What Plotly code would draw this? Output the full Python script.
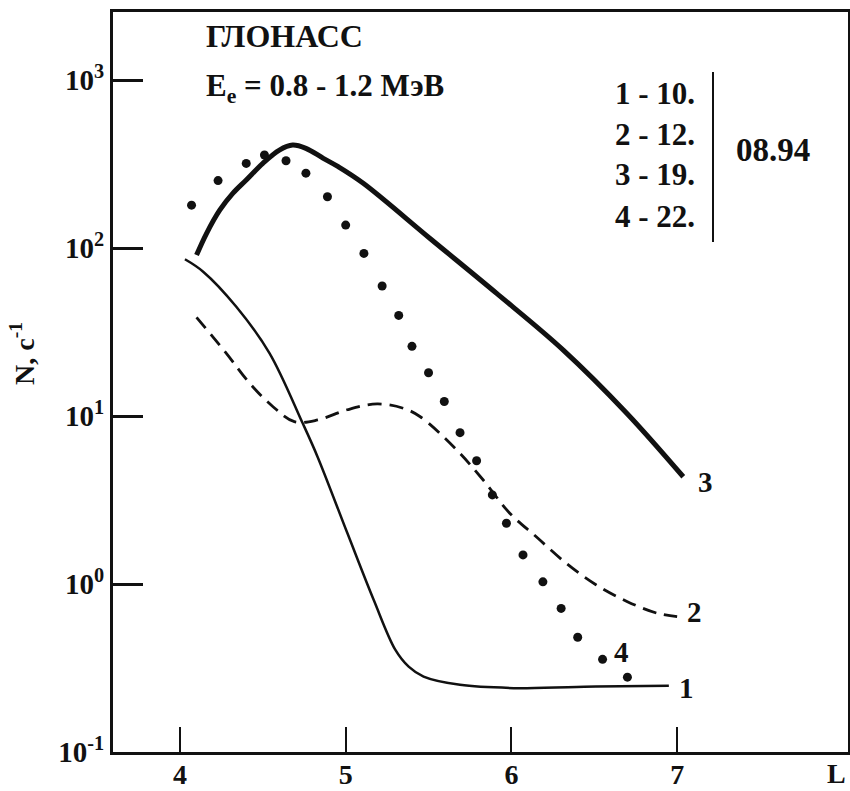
import plotly.graph_objects as go

# ---------------- data ----------------
L1 = [4.03, 4.14, 4.34, 4.54, 4.74, 4.83, 5.01, 5.17, 5.30, 5.38, 5.47, 5.69, 6.05, 6.51, 6.95]
N1 = [85.7, 72.3, 44.7, 23.7, 9.08, 5.73, 2.01, 0.80, 0.405, 0.322, 0.281, 0.251, 0.240, 0.245, 0.248]

L2 = [4.10, 4.28, 4.42, 4.56, 4.69, 4.83, 5.01, 5.19, 5.35, 5.45, 5.67, 5.83, 5.99, 6.15, 6.33, 6.51, 6.70, 6.88, 7.00]
N2 = [38.7, 23.6, 15.7, 11.4, 9.25, 9.47, 10.9, 11.8, 11.1, 9.9, 6.28, 4.16, 2.64, 1.91, 1.33, 0.99, 0.785, 0.67, 0.64]

L3 = [4.10, 4.16, 4.24, 4.32, 4.40, 4.50, 4.60, 4.68, 4.76, 4.865, 4.955, 5.106, 5.509,
      5.911, 6.313, 6.696, 7.037]
N3 = [90.8, 122, 168, 212, 254, 319, 383, 410, 392, 342, 305, 243, 114,
      53.7, 24.7, 10.4, 4.35]

L4 = [4.07, 4.23, 4.40, 4.51, 4.64, 4.76, 4.89, 5.00, 5.11, 5.22, 5.32, 5.40, 5.50, 5.595,
      5.69, 5.79, 5.885, 5.97, 6.07, 6.19, 6.30, 6.40, 6.55, 6.70]
N4 = [180, 252, 319, 358, 331, 279, 202, 137, 92.9, 59.4, 39.7, 26.0, 18.1, 12.2,
      7.96, 5.42, 3.39, 2.30, 1.49, 1.03, 0.716, 0.482, 0.356, 0.279]

x_tickvals = [4, 5, 6, 7]
x_ticktext = ["4", "5", "6", "7"]
y_tickvals = [0.1, 1, 10, 100, 1000]
y_ticktext = ["10<sup>-1</sup>", "10<sup>0</sup>", "10<sup>1</sup>", "10<sup>2</sup>", "10<sup>3</sup>"]

title_text = "ГЛОНАСС"
energy_text = "E<sub>e</sub> = 0.8 - 1.2 МэВ"
legend_lines = ["1 - 10.", "2 - 12.", "3 - 19.", "4 - 22."]
legend_date = "08.94"
curve_labels = ["1", "2", "3", "4"]
y_title = "N, с<sup>-1</sup>"
x_title = "L"

# ---------------- layout geometry ----------------
W, H = 850, 791
ML, MR, MT, MB = 113, 2, 12, 39
PW, PH = W - ML - MR, H - MT - MB

def px(xp):
    return (xp - ML) / PW

def py(yp):
    return (H - MB - yp) / PH

def b(t):
    return "<b>" + t + "</b>"

FONT = "Liberation Serif, Times New Roman, serif"
black = "#111111"

fig = go.Figure()
fig.add_trace(go.Scatter(x=L1, y=N1, mode="lines", line=dict(color=black, width=2.5, shape="spline"),
                         showlegend=False))
fig.add_trace(go.Scatter(x=L2, y=N2, mode="lines", line=dict(color=black, width=2.8, shape="spline", dash="14px,8px"),
                         showlegend=False))
fig.add_trace(go.Scatter(x=L3, y=N3, mode="lines", line=dict(color=black, width=5, shape="spline"),
                         showlegend=False))
fig.add_trace(go.Scatter(x=L4, y=N4, mode="markers", marker=dict(color=black, size=9),
                         showlegend=False))

fig.update_layout(
    width=W, height=H,
    margin=dict(l=ML, r=MR, t=MT, b=MB, autoexpand=False),
    paper_bgcolor="white", plot_bgcolor="white",
    font=dict(family=FONT, color=black, size=28),
    xaxis=dict(range=[3.596, 8.031], tickvals=x_tickvals, ticktext=[b(t) for t in x_ticktext],
               ticks="inside", ticklen=25, tickwidth=2, tickcolor=black,
               showline=True, linewidth=3, linecolor=black, mirror=True,
               showgrid=False, zeroline=False, automargin=False, ticklabelstandoff=-5,
               tickfont=dict(family=FONT, size=28, color=black)),
    yaxis=dict(type="log", range=[-1, 3.405], tickvals=y_tickvals, ticktext=[b(t) for t in y_ticktext],
               ticks="inside", ticklen=30, tickwidth=3, tickcolor=black,
               showline=True, linewidth=3, linecolor=black, mirror=True,
               showgrid=False, zeroline=False, automargin=False,
               tickfont=dict(family=FONT, size=29, color=black)),
)

ann = []
def add_text(text, x, y, size=28, xanchor="center", textangle=0):
    ann.append(dict(text=b(text), x=px(x), y=py(y), xref="paper", yref="paper",
                    xanchor=xanchor, yanchor="middle", showarrow=False, textangle=textangle,
                    font=dict(family=FONT, size=size, color=black)))

add_text(title_text, 204, 36, size=32, xanchor="left")
add_text(energy_text, 204, 88, size=31, xanchor="left")
for t, yy in zip(legend_lines, [93, 134, 175, 217]):
    add_text(t, 613, yy, size=31, xanchor="left")
add_text(legend_date, 773, 150, size=33)
for t, (xx, yy) in zip(curve_labels, [(686, 688), (694, 612), (705, 482), (621, 652)]):
    add_text(t, xx, yy, size=29)
add_text(y_title, 22, 354, size=28, textangle=-90)
add_text(x_title, 836, 773, size=28)

fig.update_layout(annotations=ann)
fig.add_shape(type="line", xref="paper", yref="paper", x0=px(713), x1=px(713), y0=py(72), y1=py(242),
              line=dict(color=black, width=2))

fig.write_html("out.html")
